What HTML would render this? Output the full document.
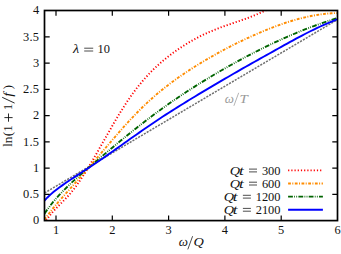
<!DOCTYPE html>
<html><head><meta charset="utf-8"><title>plot</title>
<style>html,body{margin:0;padding:0;background:#fff;font-family:"Liberation Serif",serif}svg{display:block}</style></head>
<body>
<svg width="341" height="254" viewBox="0 0 341 254">
<rect width="341" height="254" fill="#fff"/>
<defs><clipPath id="c"><rect x="44.5" y="10.5" width="293.0" height="210.1"/></clipPath></defs>
<g clip-path="url(#c)" fill="none">
<path d="M44.50,193.00 L337.50,19.60" stroke="#707070" stroke-width="1.5" stroke-dasharray="2.1,1.2"/>
<path d="M44.50,223.02 L46.76,219.64 L49.02,216.56 L51.27,213.74 L53.53,211.13 L55.79,208.67 L58.05,206.33 L60.30,204.05 L62.56,201.78 L64.82,199.49 L67.08,197.11 L69.33,194.61 L71.59,191.94 L73.85,189.09 L76.11,186.07 L78.36,182.91 L80.62,179.60 L82.88,176.17 L85.14,172.63 L87.39,168.99 L89.65,165.26 L91.91,161.46 L94.17,157.60 L96.42,153.70 L98.68,149.77 L100.94,145.80 L103.20,141.83 L105.45,137.86 L107.71,133.89 L109.97,129.94 L112.23,126.02 L114.48,122.14 L116.74,118.32 L119.00,114.55 L121.26,110.85 L123.52,107.24 L125.77,103.72 L128.03,100.30 L130.29,97.00 L132.55,93.82 L134.80,90.75 L137.06,87.80 L139.32,84.96 L141.58,82.23 L143.83,79.60 L146.09,77.06 L148.35,74.62 L150.61,72.27 L152.86,70.01 L155.12,67.82 L157.38,65.72 L159.64,63.68 L161.89,61.72 L164.15,59.82 L166.41,57.98 L168.67,56.20 L170.92,54.48 L173.18,52.80 L175.44,51.17 L177.70,49.59 L179.95,48.05 L182.21,46.57 L184.47,45.12 L186.73,43.73 L188.98,42.37 L191.24,41.06 L193.50,39.79 L195.76,38.56 L198.02,37.37 L200.27,36.22 L202.53,35.11 L204.79,34.04 L207.05,33.00 L209.30,31.99 L211.56,31.03 L213.82,30.09 L216.08,29.19 L218.33,28.31 L220.59,27.47 L222.85,26.65 L225.11,25.84 L227.36,25.05 L229.62,24.28 L231.88,23.51 L234.14,22.74 L236.39,21.97 L238.65,21.20 L240.91,20.43 L243.17,19.64 L245.42,18.84 L247.68,18.01 L249.94,17.17 L252.20,16.30 L254.45,15.39 L256.71,14.46 L258.97,13.49 L261.23,12.47 L263.48,11.41 L265.74,10.30 L268.00,9.14" stroke="#ff0000" stroke-width="1.9" stroke-dasharray="1.2,2.0"/>
<path d="M44.50,219.64 L47.46,215.48 L50.42,211.57 L53.38,207.86 L56.34,204.32 L59.30,200.88 L62.26,197.53 L65.22,194.21 L68.18,190.89 L71.14,187.56 L74.10,184.23 L77.06,180.88 L80.02,177.53 L82.97,174.16 L85.93,170.78 L88.89,167.38 L91.85,163.96 L94.81,160.53 L97.77,157.08 L100.73,153.61 L103.69,150.14 L106.65,146.66 L109.61,143.20 L112.57,139.74 L115.53,136.31 L118.49,132.91 L121.45,129.54 L124.41,126.21 L127.37,122.93 L130.33,119.71 L133.29,116.55 L136.25,113.46 L139.21,110.44 L142.17,107.51 L145.13,104.67 L148.09,101.90 L151.05,99.21 L154.01,96.59 L156.96,94.05 L159.92,91.58 L162.88,89.17 L165.84,86.83 L168.80,84.54 L171.76,82.32 L174.72,80.15 L177.68,78.03 L180.64,75.96 L183.60,73.94 L186.56,71.96 L189.52,70.02 L192.48,68.12 L195.44,66.26 L198.40,64.43 L201.36,62.63 L204.32,60.85 L207.28,59.11 L210.24,57.39 L213.20,55.70 L216.16,54.04 L219.12,52.40 L222.08,50.80 L225.04,49.22 L227.99,47.66 L230.95,46.14 L233.91,44.64 L236.87,43.16 L239.83,41.72 L242.79,40.30 L245.75,38.90 L248.71,37.53 L251.67,36.19 L254.63,34.87 L257.59,33.58 L260.55,32.32 L263.51,31.08 L266.47,29.87 L269.43,28.69 L272.39,27.53 L275.35,26.41 L278.31,25.33 L281.27,24.27 L284.23,23.26 L287.19,22.28 L290.15,21.35 L293.11,20.45 L296.07,19.60 L299.03,18.79 L301.98,18.03 L304.94,17.32 L307.90,16.65 L310.86,16.04 L313.82,15.48 L316.78,14.97 L319.74,14.52 L322.70,14.12 L325.66,13.78 L328.62,13.51 L331.58,13.29 L334.54,13.14 L337.50,13.06" stroke="#ff8c00" stroke-width="1.9" stroke-dasharray="2.8,1.4,1.0,1.5"/>
<path d="M44.50,213.60 L47.46,209.34 L50.42,205.39 L53.38,201.71 L56.34,198.25 L59.30,194.97 L62.26,191.83 L65.22,188.81 L68.18,185.90 L71.14,183.08 L74.10,180.34 L77.06,177.67 L80.02,175.05 L82.97,172.48 L85.93,169.94 L88.89,167.42 L91.85,164.91 L94.81,162.39 L97.77,159.88 L100.73,157.38 L103.69,154.88 L106.65,152.39 L109.61,149.91 L112.57,147.44 L115.53,144.97 L118.49,142.52 L121.45,140.09 L124.41,137.67 L127.37,135.26 L130.33,132.87 L133.29,130.50 L136.25,128.15 L139.21,125.82 L142.17,123.51 L145.13,121.22 L148.09,118.96 L151.05,116.73 L154.01,114.52 L156.96,112.33 L159.92,110.17 L162.88,108.04 L165.84,105.93 L168.80,103.84 L171.76,101.78 L174.72,99.75 L177.68,97.73 L180.64,95.74 L183.60,93.77 L186.56,91.82 L189.52,89.90 L192.48,87.99 L195.44,86.11 L198.40,84.25 L201.36,82.40 L204.32,80.58 L207.28,78.78 L210.24,76.99 L213.20,75.23 L216.16,73.48 L219.12,71.75 L222.08,70.03 L225.04,68.34 L227.99,66.66 L230.95,65.00 L233.91,63.35 L236.87,61.72 L239.83,60.11 L242.79,58.51 L245.75,56.93 L248.71,55.37 L251.67,53.83 L254.63,52.30 L257.59,50.80 L260.55,49.31 L263.51,47.84 L266.47,46.39 L269.43,44.96 L272.39,43.55 L275.35,42.16 L278.31,40.79 L281.27,39.44 L284.23,38.11 L287.19,36.80 L290.15,35.52 L293.11,34.25 L296.07,33.01 L299.03,31.79 L301.98,30.59 L304.94,29.42 L307.90,28.27 L310.86,27.14 L313.82,26.04 L316.78,24.96 L319.74,23.90 L322.70,22.87 L325.66,21.86 L328.62,20.88 L331.58,19.92 L334.54,18.99 L337.50,18.09" stroke="#006400" stroke-width="1.9" stroke-dasharray="4.8,1.3,0.8,1.3,0.8,1.3"/>
<path d="M44.50,200.62 L47.46,197.46 L50.42,194.63 L53.38,192.08 L56.34,189.73 L59.30,187.52 L62.26,185.39 L65.22,183.32 L68.18,181.29 L71.14,179.31 L74.10,177.35 L77.06,175.41 L80.02,173.48 L82.97,171.56 L85.93,169.63 L88.89,167.69 L91.85,165.73 L94.81,163.74 L97.77,161.73 L100.73,159.70 L103.69,157.66 L106.65,155.60 L109.61,153.53 L112.57,151.44 L115.53,149.35 L118.49,147.26 L121.45,145.15 L124.41,143.05 L127.37,140.95 L130.33,138.85 L133.29,136.76 L136.25,134.67 L139.21,132.60 L142.17,130.53 L145.13,128.48 L148.09,126.45 L151.05,124.43 L154.01,122.44 L156.96,120.46 L159.92,118.50 L162.88,116.57 L165.84,114.64 L168.80,112.74 L171.76,110.85 L174.72,108.98 L177.68,107.12 L180.64,105.27 L183.60,103.44 L186.56,101.62 L189.52,99.81 L192.48,98.01 L195.44,96.22 L198.40,94.43 L201.36,92.66 L204.32,90.89 L207.28,89.13 L210.24,87.38 L213.20,85.63 L216.16,83.88 L219.12,82.15 L222.08,80.41 L225.04,78.69 L227.99,76.97 L230.95,75.25 L233.91,73.54 L236.87,71.83 L239.83,70.13 L242.79,68.44 L245.75,66.76 L248.71,65.08 L251.67,63.41 L254.63,61.75 L257.59,60.08 L260.55,58.42 L263.51,56.77 L266.47,55.11 L269.43,53.46 L272.39,51.80 L275.35,50.15 L278.31,48.49 L281.27,46.84 L284.23,45.19 L287.19,43.55 L290.15,41.92 L293.11,40.30 L296.07,38.70 L299.03,37.12 L301.98,35.56 L304.94,34.02 L307.90,32.51 L310.86,31.02 L313.82,29.57 L316.78,28.15 L319.74,26.76 L322.70,25.41 L325.66,24.09 L328.62,22.80 L331.58,21.54 L334.54,20.32 L337.50,19.13" stroke="#0000ff" stroke-width="1.9"/>
</g>
<rect x="44.5" y="10.5" width="293.0" height="210.1" fill="none" stroke="#000" stroke-width="1.7"/>
<path d="M56.00,220.60 v-5.2 M56.00,10.50 v5.2 M112.30,220.60 v-5.2 M112.30,10.50 v5.2 M168.60,220.60 v-5.2 M168.60,10.50 v5.2 M224.90,220.60 v-5.2 M224.90,10.50 v5.2 M281.20,220.60 v-5.2 M281.20,10.50 v5.2 M44.50,194.35 h5.2 M337.50,194.35 h-5.2 M44.50,168.10 h5.2 M337.50,168.10 h-5.2 M44.50,141.85 h5.2 M337.50,141.85 h-5.2 M44.50,115.60 h5.2 M337.50,115.60 h-5.2 M44.50,89.35 h5.2 M337.50,89.35 h-5.2 M44.50,63.10 h5.2 M337.50,63.10 h-5.2 M44.50,36.85 h5.2 M337.50,36.85 h-5.2" stroke="#000" stroke-width="1.2" fill="none"/>
<g font-family="Liberation Serif, serif">
<text transform="translate(56.00,234.30) scale(1.000,1.050)" font-size="12.40" text-anchor="middle" fill="#111">1</text>
<text transform="translate(112.30,234.30) scale(1.000,1.050)" font-size="12.40" text-anchor="middle" fill="#111">2</text>
<text transform="translate(168.60,234.30) scale(1.000,1.050)" font-size="12.40" text-anchor="middle" fill="#111">3</text>
<text transform="translate(224.90,234.30) scale(1.000,1.050)" font-size="12.40" text-anchor="middle" fill="#111">4</text>
<text transform="translate(281.20,234.30) scale(1.000,1.050)" font-size="12.40" text-anchor="middle" fill="#111">5</text>
<text transform="translate(337.50,234.30) scale(1.000,1.050)" font-size="12.40" text-anchor="middle" fill="#111">6</text>
<text transform="translate(39.30,224.40) scale(1.000,1.050)" font-size="12.40" text-anchor="end" fill="#111">0</text>
<text transform="translate(39.30,198.15) scale(1.000,1.050)" font-size="12.40" text-anchor="end" fill="#111" letter-spacing="0.3">0.5</text>
<text transform="translate(39.30,171.90) scale(1.000,1.050)" font-size="12.40" text-anchor="end" fill="#111">1</text>
<text transform="translate(39.30,145.65) scale(1.000,1.050)" font-size="12.40" text-anchor="end" fill="#111" letter-spacing="0.3">1.5</text>
<text transform="translate(39.30,119.40) scale(1.000,1.050)" font-size="12.40" text-anchor="end" fill="#111">2</text>
<text transform="translate(39.30,93.15) scale(1.000,1.050)" font-size="12.40" text-anchor="end" fill="#111" letter-spacing="0.3">2.5</text>
<text transform="translate(39.30,66.90) scale(1.000,1.050)" font-size="12.40" text-anchor="end" fill="#111">3</text>
<text transform="translate(39.30,40.65) scale(1.000,1.050)" font-size="12.40" text-anchor="end" fill="#111" letter-spacing="0.3">3.5</text>
<text transform="translate(39.30,14.40) scale(1.000,1.050)" font-size="12.40" text-anchor="end" fill="#111">4</text>
<text transform="translate(280.50,174.50) scale(1.000,1.050)" font-size="12.40" text-anchor="end" fill="#111">300</text>
<path d="M249.00,171.90 h8.00 M249.00,169.10 h8.00" stroke="#111" stroke-width="0.75" fill="none"/>
<text transform="translate(229.80,174.50) scale(1.100,1.000)" font-size="13.00" font-style="italic" text-anchor="start" fill="#111">Q</text>
<text transform="translate(238.90,174.50) scale(1.300,1.000)" font-size="13.00" font-style="italic" text-anchor="start" fill="#111">t</text>
<text transform="translate(280.50,187.60) scale(1.000,1.050)" font-size="12.40" text-anchor="end" fill="#111">600</text>
<path d="M249.00,185.00 h8.00 M249.00,182.20 h8.00" stroke="#111" stroke-width="0.75" fill="none"/>
<text transform="translate(229.80,187.60) scale(1.100,1.000)" font-size="13.00" font-style="italic" text-anchor="start" fill="#111">Q</text>
<text transform="translate(238.90,187.60) scale(1.300,1.000)" font-size="13.00" font-style="italic" text-anchor="start" fill="#111">t</text>
<text transform="translate(280.50,200.70) scale(1.000,1.050)" font-size="12.40" text-anchor="end" fill="#111">1200</text>
<path d="M242.90,198.10 h8.00 M242.90,195.30 h8.00" stroke="#111" stroke-width="0.75" fill="none"/>
<text transform="translate(223.70,200.70) scale(1.100,1.000)" font-size="13.00" font-style="italic" text-anchor="start" fill="#111">Q</text>
<text transform="translate(232.80,200.70) scale(1.300,1.000)" font-size="13.00" font-style="italic" text-anchor="start" fill="#111">t</text>
<text transform="translate(280.50,213.80) scale(1.000,1.050)" font-size="12.40" text-anchor="end" fill="#111">2100</text>
<path d="M242.90,211.20 h8.00 M242.90,208.40 h8.00" stroke="#111" stroke-width="0.75" fill="none"/>
<text transform="translate(223.70,213.80) scale(1.100,1.000)" font-size="13.00" font-style="italic" text-anchor="start" fill="#111">Q</text>
<text transform="translate(232.80,213.80) scale(1.300,1.000)" font-size="13.00" font-style="italic" text-anchor="start" fill="#111">t</text>
<text transform="translate(73.00,53.30) scale(1.100,1.000)" font-size="13.00" font-style="italic" text-anchor="start" fill="#111">λ</text>
<path d="M84.20,51.00 h9.00 M84.20,48.20 h9.00" stroke="#111" stroke-width="0.75" fill="none"/>
<text transform="translate(97.60,53.30) scale(1.000,1.050)" font-size="12.40" text-anchor="start" fill="#111">10</text>
<text transform="translate(178.70,246.40) scale(1.000,1.000)" font-size="13.00" font-style="italic" text-anchor="start" fill="#111">ω</text>
<path d="M187.8,249.4 L192.6,236.2" stroke="#111" stroke-width="0.75"/>
<text transform="translate(193.60,246.40) scale(1.100,1.000)" font-size="13.00" font-style="italic" text-anchor="start" fill="#111">Q</text>
<text transform="translate(224.80,103.30) scale(1.000,1.000)" font-size="13.00" font-style="italic" text-anchor="start" fill="#999">ω</text>
<path d="M233.9,105.8 L238.7,92.8" stroke="#999" stroke-width="0.75"/>
<text transform="translate(239.60,103.30) scale(1.150,1.000)" font-size="13.00" font-style="italic" text-anchor="start" fill="#999">T</text>
<g transform="translate(11.6,146.9) rotate(-90)">
<text transform="translate(0.20,0.00) scale(1.000,1.050)" font-size="12.40" text-anchor="start" fill="#111">l</text>
<text transform="translate(3.60,0.00) scale(1.080,1.050)" font-size="12.40" text-anchor="start" fill="#111">n</text>
<text transform="translate(10.60,0.00) scale(1.100,1.050)" font-size="12.40" text-anchor="start" fill="#111">(</text>
<text transform="translate(15.40,0.00) scale(1.000,1.050)" font-size="12.40" text-anchor="start" fill="#111">1</text>
<path d="M25.2,-3.1 h8.2 M29.3,-7.2 v8.2" stroke="#111" stroke-width="0.9" fill="none"/>
<text transform="translate(37.00,0.00) scale(1.000,1.050)" font-size="12.40" text-anchor="start" fill="#111">1</text>
<path d="M43.8,3.0 L49.6,-9.4" stroke="#111" stroke-width="0.9"/>
<text transform="translate(50.20,0.00) scale(1.150,1.000)" font-size="13.00" font-style="italic" text-anchor="start" fill="#111">f</text>
<text transform="translate(62.00,0.00) scale(1.100,1.050)" font-size="12.40" text-anchor="end" fill="#111">)</text>
</g>
</g>
<g fill="none" stroke-width="1.9">
<path d="M288.1,170.4 H322.9" stroke="#ff0000" stroke-dasharray="1.2,2.0"/>
<path d="M288.1,183.5 H322.9" stroke="#ff8c00" stroke-dasharray="2.8,1.4,1.0,1.5"/>
<path d="M288.1,196.6 H322.9" stroke="#006400" stroke-dasharray="4.8,1.3,0.8,1.3,0.8,1.3"/>
<path d="M288.1,209.7 H322.9" stroke="#0000ff"/>
</g>
</svg>
</body></html>
